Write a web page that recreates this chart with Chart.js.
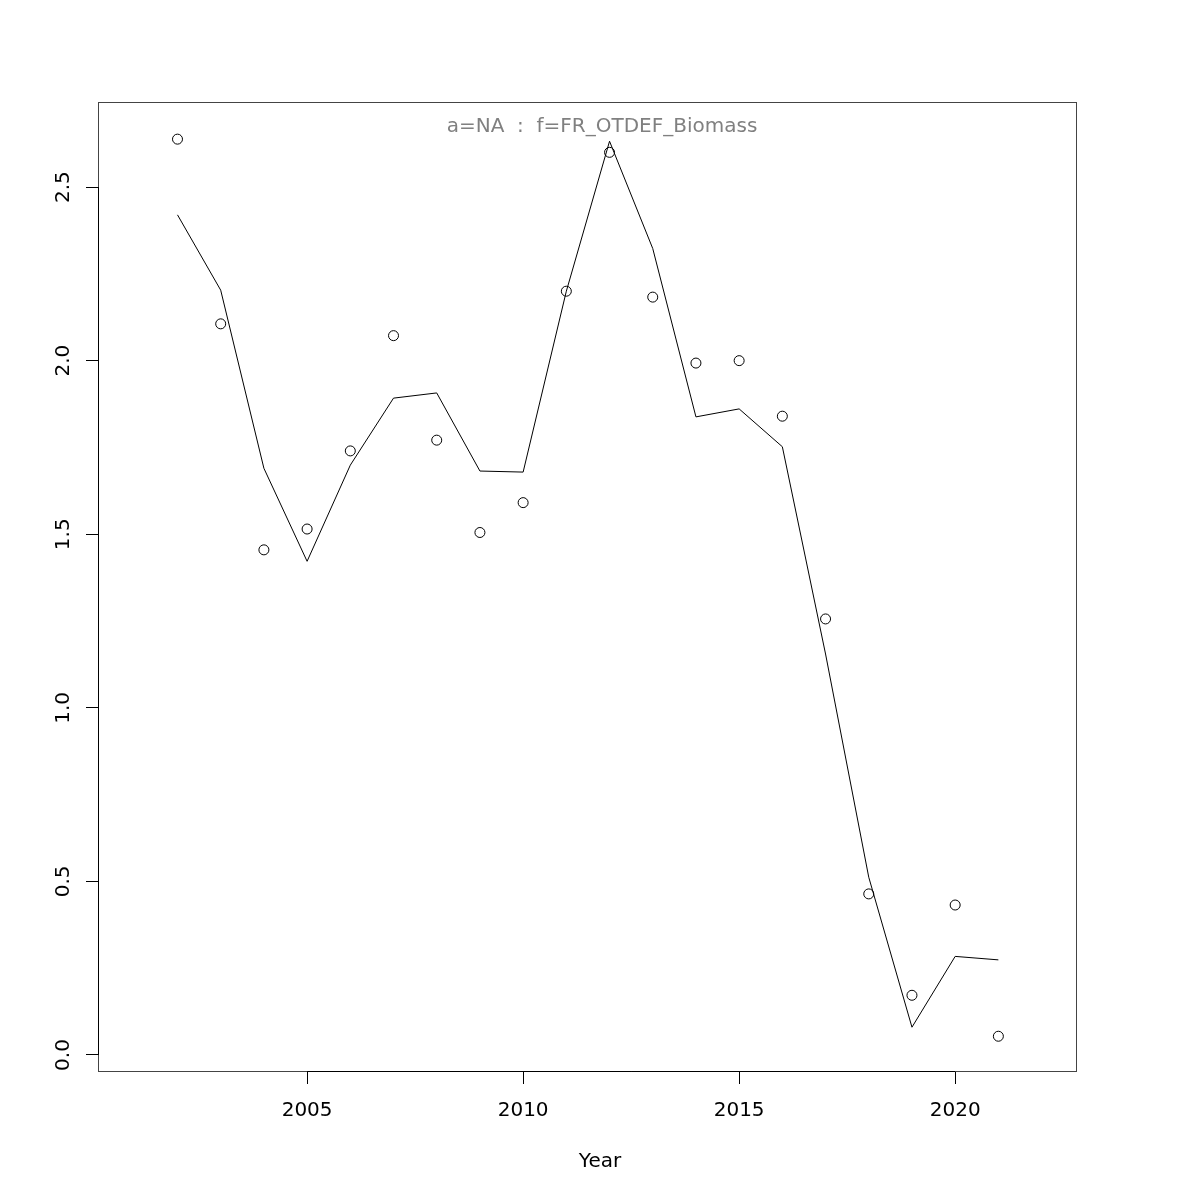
<!DOCTYPE html>
<html>
<head>
<meta charset="utf-8">
<script src="https://cdn.jsdelivr.net/npm/chart.js@4/dist/chart.umd.min.js"></script>
<style>
  html, body { margin: 0; padding: 0; background: #fff; }
  #wrap { width: 1200px; height: 1200px; }
</style>
</head>
<body>
<div id="wrap"><canvas id="fitChart" width="1200" height="1200"></canvas></div>
<script>
// Data
const years = [2002, 2003, 2004, 2005, 2006, 2007, 2008, 2009, 2010, 2011,
               2012, 2013, 2014, 2015, 2016, 2017, 2018, 2019, 2020, 2021];
const observed = [2.638, 2.106, 1.455, 1.515, 1.740, 2.072, 1.771, 1.505, 1.591, 2.200,
                  2.600, 2.183, 1.993, 2.000, 1.840, 1.256, 0.464, 0.172, 0.432, 0.054];
const fitted = [2.420, 2.203, 1.690, 1.422, 1.699, 1.892, 1.907, 1.682, 1.679, 2.200,
                2.632, 2.323, 1.838, 1.861, 1.752, 1.155, 0.512, 0.080, 0.284, 0.274];
const xTicks = [2005, 2010, 2015, 2020];
const yTicks = [0.0, 0.5, 1.0, 1.5, 2.0, 2.5];
const plotTitle = "a=NA  :  f=FR_OTDEF_Biomass";
const xLabel = "Year";

const FONT = "'DejaVu Sans', sans-serif";

// Box, axis lines, rotated y labels, title
const rFrame = {
    id: 'rFrame',
    afterDraw(chart) {
        const ctx = chart.ctx;
        const a = chart.chartArea;
        const xs = chart.scales.x, ys = chart.scales.y;
        ctx.save();
        // plot box
        ctx.strokeStyle = '#444';
        ctx.lineWidth = 1;
        ctx.strokeRect(Math.round(a.left) + 0.5, Math.round(a.top) + 0.5,
                       Math.round(a.right - a.left) - 1, Math.round(a.bottom - a.top) - 1);
        // axis lines over tick range
        ctx.strokeStyle = '#000';
        ctx.beginPath();
        ctx.moveTo(xs.getPixelForValue(xTicks[0]), Math.round(a.bottom) - 0.5);
        ctx.lineTo(xs.getPixelForValue(xTicks[xTicks.length - 1]), Math.round(a.bottom) - 0.5);
        ctx.moveTo(Math.round(a.left) + 0.5, ys.getPixelForValue(yTicks[0]));
        ctx.lineTo(Math.round(a.left) + 0.5, ys.getPixelForValue(yTicks[yTicks.length - 1]));
        ctx.stroke();
        // y tick labels, rotated like base R
        ctx.fillStyle = '#000';
        ctx.font = '20px ' + FONT;
        ctx.textAlign = 'center';
        ctx.textBaseline = 'middle';
        yTicks.forEach(v => {
            const py = ys.getPixelForValue(v);
            ctx.save();
            ctx.translate(64, py);
            ctx.rotate(-Math.PI / 2);
            ctx.fillText(v.toFixed(1), 0, 0);
            ctx.restore();
        });
        // x axis label
        ctx.fillText(xLabel, 600, 1162);
        // title inside plot
        ctx.fillStyle = '#808080';
        ctx.fillText(plotTitle, 602, 127);
        ctx.restore();
    }
};

new Chart(document.getElementById('fitChart').getContext('2d'), {
    type: 'scatter',
    data: {
        datasets: [
            {
                label: 'fitted',
                data: years.map((y, i) => ({ x: y, y: fitted[i] })),
                showLine: true,
                borderColor: '#000',
                borderWidth: 1,
                pointRadius: 0,
                tension: 0
            },
            {
                label: 'observed',
                data: years.map((y, i) => ({ x: y, y: observed[i] })),
                showLine: false,
                pointStyle: 'circle',
                pointRadius: 5,
                pointBorderWidth: 1,
                pointBorderColor: '#000',
                pointBackgroundColor: 'rgba(0,0,0,0)'
            }
        ]
    },
    options: {
        responsive: false,
        animation: false,
        devicePixelRatio: 1,
        layout: { padding: { top: 102, right: 123, left: 0, bottom: 0 } },
        plugins: {
            legend: { display: false },
            tooltip: { enabled: false }
        },
        scales: {
            x: {
                type: 'linear',
                min: 2000.16,
                max: 2022.82,
                afterBuildTicks: scale => { scale.ticks = xTicks.map(v => ({ value: v })); },
                afterFit: scale => { scale.height = 128; },
                border: { display: false },
                grid: { drawOnChartArea: false, drawTicks: true, tickLength: 12, tickColor: '#000', tickWidth: 1 },
                ticks: {
                    color: '#000',
                    font: { family: FONT, size: 20 },
                    padding: 15,
                    maxRotation: 0,
                    callback: v => String(v)
                }
            },
            y: {
                type: 'linear',
                min: -0.049,
                max: 2.745,
                afterBuildTicks: scale => { scale.ticks = yTicks.map(v => ({ value: v })); },
                afterFit: scale => { scale.width = 98; },
                border: { display: false },
                grid: { drawOnChartArea: false, drawTicks: true, tickLength: 12, tickColor: '#000', tickWidth: 1 },
                ticks: { display: false }
            }
        }
    },
    plugins: [rFrame]
});
</script>
</body>
</html>
